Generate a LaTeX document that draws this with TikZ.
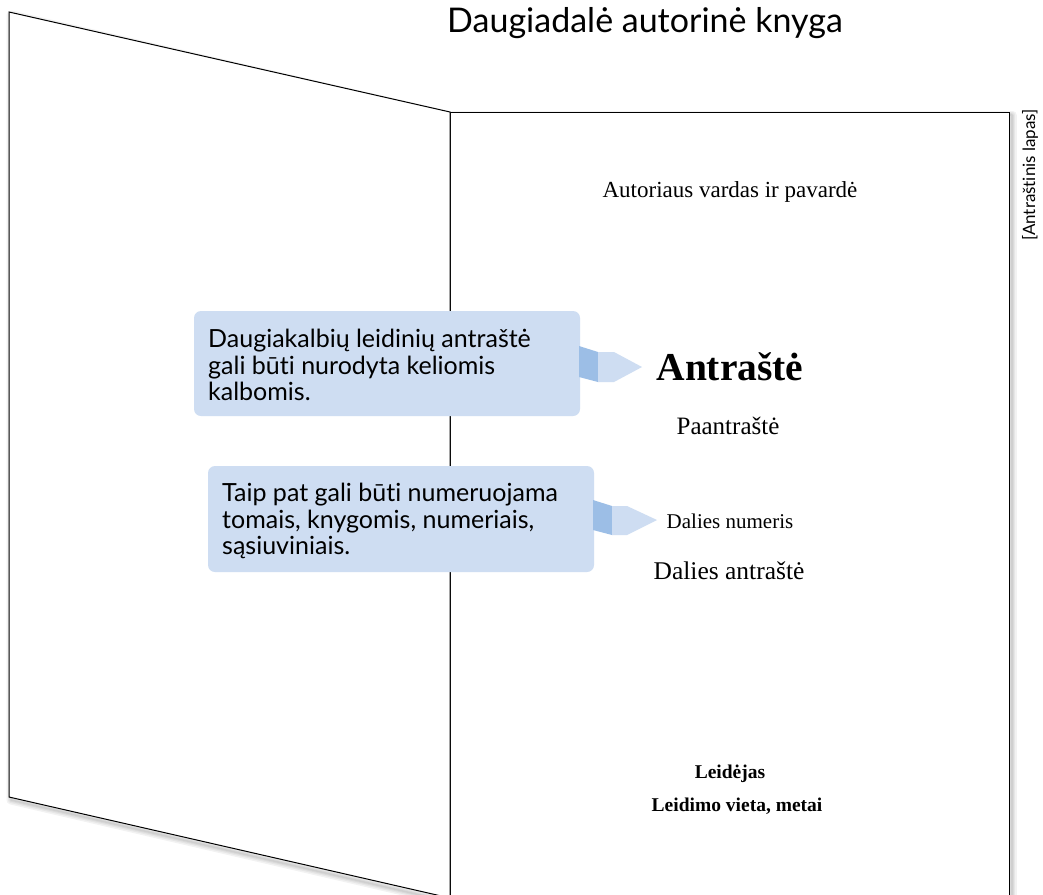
\documentclass[tikz,border=0pt]{standalone}
\usepackage{fontspec}
\setmainfont{Liberation Serif}
\newfontfamily\uisans[Ligatures=NoCommon]{Lato}
\definecolor{calloutfill}{HTML}{CEDDF2}
\definecolor{calloutdark}{HTML}{9CBEE6}
\begin{document}
\begin{tikzpicture}[x=1pt,y=-1pt,
  page/.style={draw=black, line width=1pt, fill=white},
  softshadow/.style={draw=black, draw opacity=0.05, line width=#1, line join=round},
  callout/.style={fill=calloutfill, rounded corners=7pt, inner sep=0pt},
  ctext/.style={font=\uisans\fontsize{25}{26.5}\selectfont, align=left, anchor=north west, inner sep=0pt},
  ptext/.style={anchor=center, inner sep=0pt}]
\useasboundingbox (0,0) rectangle (1043,894);
\begin{scope}
\clip (0,0) rectangle (1043,894);
% right page shadow + page
\foreach \w in {9,6,3.5,1.5}
  \draw[softshadow=\w] (452,115) rectangle (1012,912);
\draw[page] (450,112) rectangle (1009,910);
% left page shadow + page
\foreach \w in {9,6,3.5,1.5}
  \draw[softshadow=\w] (446,901) -- (11,800) -- (11,15) -- (446,115);
\draw[page] (9,12) -- (450,112) -- (450,898) -- (9,797) -- cycle;
\end{scope}
% title
\node[font=\uisans\fontsize{34}{38}\selectfont, anchor=center] (title) at (645,23) {Daugiadalė autorinė knyga};
% side label
\node[font=\uisans\fontsize{17}{20}\selectfont, rotate=90, anchor=center] (side) at (1030,175) {[Antraštinis lapas]};
% page texts
\node[ptext, font=\fontsize{23}{25}\selectfont] (author) at (730,192) {Autoriaus vardas ir pavardė};
\node[ptext, font=\bfseries\fontsize{39.5}{42}\selectfont] (maintitle) at (730,367) {Antraštė};
\node[ptext, font=\fontsize{25}{27}\selectfont] (subtitle) at (728,426) {Paantraštė};
\node[ptext, font=\fontsize{21}{23}\selectfont] (partno) at (730,521) {Dalies numeris};
\node[ptext, font=\fontsize{25.5}{27}\selectfont] (parttitle) at (729,571) {Dalies antraštė};
\node[ptext, font=\bfseries\fontsize{19.5}{21}\selectfont] (publisher) at (730,774) {Leidėjas};
\node[ptext, font=\bfseries\fontsize{19.5}{21}\selectfont] (place) at (737,806) {Leidimo vieta, metai};
% callout 1
\fill[callout] (194,311) rectangle (580,416);
\fill[calloutdark] (579,346) -- (598,352) -- (598,382) -- (579,377) -- cycle;
\fill[calloutfill] (598,352) -- (614,352) -- (642,367) -- (614,382) -- (598,382) -- cycle;
\node[ctext] (t1) at (208,329) {Daugiakalbių leidinių antraštė\\gali būti nurodyta keliomis\\kalbomis.};
% callout 2
\fill[callout] (208,466) rectangle (594,572);
\fill[calloutdark] (593,500) -- (612,506) -- (612,535) -- (593,530) -- cycle;
\fill[calloutfill] (612,506) -- (627,506) -- (657,520) -- (627,535) -- (612,535) -- cycle;
\node[ctext] (t2) at (222,483) {Taip pat gali būti numeruojama\\tomais, knygomis, numeriais,\\sąsiuviniais.};
\end{tikzpicture}
\end{document}
